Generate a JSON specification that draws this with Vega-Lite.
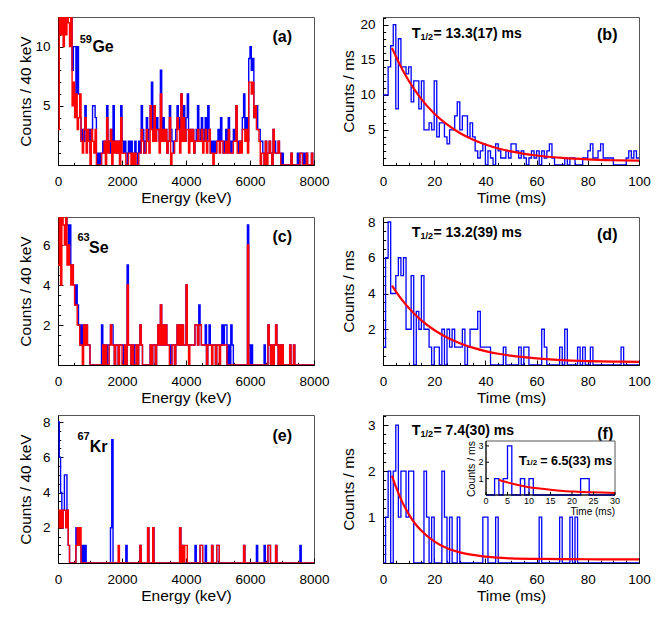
{
  "$schema": "https://vega.github.io/schema/vega-lite/v6.json",
  "padding": {"left": 18, "top": 16, "right": 5, "bottom": 5},
  "background": "white",
  "spacing": 7,
  "config": {
    "font": "Liberation Sans",
    "view": {"stroke": "#555", "strokeWidth": 1},
    "style": {"guide-title": {"fontWeight": "normal"}},
    "axis": {"grid": false, "domainColor": "#000", "tickColor": "#000", "labelColor": "#000", "titleColor": "#000",
      "labelFont": "Liberation Sans", "titleFont": "Liberation Sans",
      "labelFontSize": 13.5, "titleFontSize": 15.5, "titleFontWeight": "normal", "tickSize": -5, "zindex": 1,
      "labelFlush": false, "labelOverlap": false},
    "axisY": {"labelPadding": 13, "minExtent": 21, "maxExtent": 21, "titlePadding": 3.4, "titleFontWeight": "normal"},
    "axisX": {"labelPadding": 14, "titlePadding": 3, "titleFontWeight": "normal"}
  },
  "vconcat": [
    {"spacing": 69, "bounds": "flush", "hconcat": [
      {"width": 256, "height": 148,
       "resolve": {"axis": {"x": "independent", "y": "independent"}},
       "layer": [
        {"data": {"name": "geA", "values": [
{"e":0,"b":14,"r":3},{"e":40,"b":14,"r":14},{"e":80,"b":14,"r":11},{"e":120,"b":14,"r":14},{"e":160,"b":14,"r":10},{"e":200,"b":14,"r":14},{"e":240,"b":14,"r":11},{"e":280,"b":14,"r":14},{"e":320,"b":14,"r":12},{"e":360,"b":14,"r":10},
{"e":400,"b":13,"r":14},{"e":440,"b":8,"r":5},{"e":480,"b":10,"r":7},{"e":520,"b":10,"r":4},{"e":560,"b":6,"r":6},{"e":600,"b":10,"r":3},{"e":640,"b":6,"r":4},{"e":680,"b":4,"r":6},{"e":720,"b":2,"r":2},{"e":760,"b":3,"r":1},
{"e":800,"b":2,"r":3},{"e":840,"b":5,"r":4},{"e":880,"b":3,"r":1},{"e":920,"b":2,"r":3},{"e":960,"b":3,"r":2},{"e":1000,"b":1,"r":0},{"e":1040,"b":3,"r":3},{"e":1080,"b":5,"r":2},{"e":1120,"b":5,"r":1},{"e":1160,"b":4,"r":3},
{"e":1200,"b":1,"r":0},{"e":1240,"b":0,"r":0},{"e":1280,"b":1,"r":0},{"e":1320,"b":0,"r":0},{"e":1360,"b":1,"r":1},{"e":1400,"b":2,"r":1},{"e":1440,"b":1,"r":2},{"e":1480,"b":2,"r":0},{"e":1520,"b":5,"r":4},{"e":1560,"b":2,"r":1},
{"e":1600,"b":1,"r":2},{"e":1640,"b":3,"r":3},{"e":1680,"b":1,"r":0},{"e":1720,"b":5,"r":2},{"e":1760,"b":2,"r":1},{"e":1800,"b":2,"r":2},{"e":1840,"b":1,"r":1},{"e":1880,"b":2,"r":2},{"e":1920,"b":1,"r":0},{"e":1960,"b":5,"r":4},
{"e":2000,"b":2,"r":1},{"e":2040,"b":1,"r":1},{"e":2080,"b":2,"r":1},{"e":2120,"b":1,"r":0},{"e":2160,"b":0,"r":0},{"e":2200,"b":2,"r":1},{"e":2240,"b":1,"r":1},{"e":2280,"b":2,"r":0},{"e":2320,"b":1,"r":1},{"e":2360,"b":0,"r":0},
{"e":2400,"b":2,"r":1},{"e":2440,"b":1,"r":0},{"e":2480,"b":0,"r":0},{"e":2520,"b":2,"r":1},{"e":2560,"b":1,"r":1},{"e":2600,"b":5,"r":3},{"e":2640,"b":3,"r":2},{"e":2680,"b":1,"r":1},{"e":2720,"b":2,"r":1},{"e":2760,"b":4,"r":3},
{"e":2800,"b":2,"r":2},{"e":2840,"b":3,"r":1},{"e":2880,"b":5,"r":5},{"e":2920,"b":7,"r":3},{"e":2960,"b":3,"r":2},{"e":3000,"b":5,"r":5},{"e":3040,"b":2,"r":2},{"e":3080,"b":4,"r":3},{"e":3120,"b":3,"r":3},{"e":3160,"b":2,"r":1},
{"e":3200,"b":8,"r":6},{"e":3240,"b":3,"r":2},{"e":3280,"b":4,"r":3},{"e":3320,"b":2,"r":2},{"e":3360,"b":3,"r":3},{"e":3400,"b":1,"r":1},{"e":3440,"b":2,"r":2},{"e":3480,"b":5,"r":4},{"e":3520,"b":3,"r":0},{"e":3560,"b":2,"r":1},
{"e":3600,"b":1,"r":1},{"e":3640,"b":2,"r":2},{"e":3680,"b":3,"r":2},{"e":3720,"b":5,"r":4},{"e":3760,"b":4,"r":3},{"e":3800,"b":2,"r":1},{"e":3840,"b":6,"r":6},{"e":3880,"b":3,"r":2},{"e":3920,"b":5,"r":4},{"e":3960,"b":2,"r":2},
{"e":4000,"b":4,"r":3},{"e":4040,"b":6,"r":3},{"e":4080,"b":2,"r":1},{"e":4120,"b":3,"r":3},{"e":4160,"b":2,"r":2},{"e":4200,"b":3,"r":3},{"e":4240,"b":1,"r":1},{"e":4280,"b":2,"r":2},{"e":4320,"b":3,"r":2},{"e":4360,"b":5,"r":3},
{"e":4400,"b":3,"r":2},{"e":4440,"b":2,"r":2},{"e":4480,"b":4,"r":3},{"e":4520,"b":3,"r":1},{"e":4560,"b":2,"r":2},{"e":4600,"b":4,"r":3},{"e":4640,"b":2,"r":1},{"e":4680,"b":5,"r":2},{"e":4720,"b":3,"r":3},{"e":4760,"b":1,"r":1},
{"e":4800,"b":2,"r":1},{"e":4840,"b":1,"r":0},{"e":4880,"b":2,"r":1},{"e":4920,"b":1,"r":1},{"e":4960,"b":2,"r":2},{"e":5000,"b":3,"r":2},{"e":5040,"b":2,"r":1},{"e":5080,"b":4,"r":2},{"e":5120,"b":2,"r":2},{"e":5160,"b":1,"r":1},
{"e":5200,"b":2,"r":1},{"e":5240,"b":3,"r":2},{"e":5280,"b":1,"r":1},{"e":5320,"b":4,"r":3},{"e":5360,"b":2,"r":1},{"e":5400,"b":1,"r":1},{"e":5440,"b":2,"r":1},{"e":5480,"b":3,"r":2},{"e":5520,"b":2,"r":2},{"e":5560,"b":5,"r":5},
{"e":5600,"b":2,"r":1},{"e":5640,"b":1,"r":1},{"e":5680,"b":2,"r":2},{"e":5720,"b":2,"r":1},{"e":5760,"b":4,"r":3},{"e":5800,"b":6,"r":3},{"e":5840,"b":3,"r":2},{"e":5880,"b":4,"r":3},{"e":5920,"b":2,"r":1},{"e":5960,"b":9,"r":7},
{"e":6000,"b":10,"r":7},{"e":6040,"b":8,"r":6},{"e":6080,"b":9,"r":7},{"e":6120,"b":4,"r":4},{"e":6160,"b":5,"r":5},{"e":6200,"b":5,"r":3},{"e":6240,"b":3,"r":3},{"e":6280,"b":3,"r":2},{"e":6320,"b":2,"r":0},{"e":6360,"b":2,"r":1},
{"e":6400,"b":1,"r":1},{"e":6440,"b":0,"r":0},{"e":6480,"b":2,"r":2},{"e":6520,"b":1,"r":0},{"e":6560,"b":1,"r":1},{"e":6600,"b":2,"r":2},{"e":6640,"b":1,"r":1},{"e":6680,"b":0,"r":0},{"e":6720,"b":3,"r":3},{"e":6760,"b":2,"r":1},
{"e":6800,"b":1,"r":1},{"e":6840,"b":1,"r":1},{"e":6880,"b":2,"r":2},{"e":6920,"b":1,"r":1},{"e":6960,"b":0,"r":0},{"e":7000,"b":1,"r":0},{"e":7040,"b":0,"r":0},{"e":7080,"b":0,"r":0},{"e":7120,"b":0,"r":0},{"e":7160,"b":0,"r":0},
{"e":7200,"b":0,"r":0},{"e":7240,"b":0,"r":0},{"e":7280,"b":1,"r":1},{"e":7320,"b":0,"r":0},{"e":7360,"b":0,"r":0},{"e":7400,"b":0,"r":0},{"e":7440,"b":0,"r":0},{"e":7480,"b":1,"r":0},{"e":7520,"b":0,"r":0},{"e":7560,"b":1,"r":1},
{"e":7600,"b":1,"r":1},{"e":7640,"b":0,"r":0},{"e":7680,"b":1,"r":0},{"e":7720,"b":0,"r":0},{"e":7760,"b":1,"r":1},{"e":7800,"b":0,"r":0},{"e":7840,"b":0,"r":0},{"e":7880,"b":0,"r":0},{"e":7920,"b":1,"r":1},{"e":7960,"b":0,"r":0},
{"e":8000,"b":0,"r":0}]},
         "mark": {"type": "line", "interpolate": "step-after", "clip": true, "color": "#0000ff", "strokeWidth": 1.4},
         "encoding": {
          "x": {"field": "e", "type": "quantitative", "scale": {"domain": [0, 8000], "nice": false}, "axis": {"orient": "bottom", "title": "Energy (keV)", "titleFontWeight": "normal", "format": "d", "values": [0, 2000, 4000, 6000, 8000]}},
          "y": {"field": "b", "type": "quantitative", "scale": {"domain": [0, 12.5], "nice": false}, "axis": {"orient": "left", "title": "Counts / 40 keV", "titleFontWeight": "normal", "values": [5, 10]}}}},
        {"data": {"name": "geA"},
         "mark": {"type": "line", "interpolate": "step-after", "clip": true, "color": "#ff0000", "strokeWidth": 1.4},
         "encoding": {
          "x": {"field": "e", "type": "quantitative", "scale": {"domain": [0, 8000], "nice": false}, "axis": {"orient": "bottom", "title": null, "labels": false, "domain": false, "tickSize": -2.7, "values": [500,1000,1500,2500,3000,3500,4500,5000,5500,6500,7000,7500]}},
          "y": {"field": "r", "type": "quantitative", "scale": {"domain": [0, 12.5], "nice": false}, "axis": {"orient": "left", "title": null, "labels": false, "domain": false, "tickSize": -2.7, "values": [1,2,3,4,6,7,8,9,11,12]}}}},
        {"data": {"values": [{}]},
         "mark": {"type": "text", "text": "59", "fontSize": 11, "fontWeight": "bold", "align": "left"},
         "encoding": {"x": {"datum": 678, "type": "quantitative", "axis": null}, "y": {"datum": 10.56, "type": "quantitative", "axis": null}}},
        {"data": {"values": [{}]},
         "mark": {"type": "text", "text": "Ge", "fontSize": 16, "fontWeight": "bold", "align": "left"},
         "encoding": {"x": {"datum": 1075, "type": "quantitative", "axis": null}, "y": {"datum": 9.97, "type": "quantitative", "axis": null}}},
        {"data": {"values": [{}]},
         "mark": {"type": "text", "text": "(a)", "fontSize": 16, "fontWeight": "bold", "align": "center"},
         "encoding": {"x": {"datum": 7006, "type": "quantitative", "axis": null}, "y": {"datum": 10.84, "type": "quantitative", "axis": null}}}
       ]},
      {"width": 256, "height": 148,
       "resolve": {"axis": {"x": "independent", "y": "independent"}},
       "layer": [
        {"data": {"values": [
{"t":0,"c":10},{"t":1,"c":10},{"t":2,"c":14},{"t":3,"c":17},{"t":4,"c":20},{"t":5,"c":8},{"t":6,"c":18},{"t":7,"c":14},{"t":8,"c":14},{"t":9,"c":13},
{"t":10,"c":14},{"t":11,"c":9},{"t":12,"c":12},{"t":13,"c":12},{"t":14,"c":8},{"t":15,"c":12},{"t":16,"c":5},{"t":17,"c":5},{"t":18,"c":6},{"t":19,"c":5},
{"t":20,"c":12},{"t":21,"c":4},{"t":22,"c":6},{"t":23,"c":6},{"t":24,"c":4},{"t":25,"c":3},{"t":26,"c":5},{"t":27,"c":5},{"t":28,"c":7},{"t":29,"c":9},
{"t":30,"c":5},{"t":31,"c":7},{"t":32,"c":7},{"t":33,"c":4},{"t":34,"c":6},{"t":35,"c":4},{"t":36,"c":2},{"t":37,"c":1},{"t":38,"c":2},{"t":39,"c":3},
{"t":40,"c":0},{"t":41,"c":2},{"t":42,"c":1},{"t":43,"c":0},{"t":44,"c":3},{"t":45,"c":2},{"t":46,"c":1},{"t":47,"c":1},{"t":48,"c":2},{"t":49,"c":1},
{"t":50,"c":3},{"t":51,"c":3},{"t":52,"c":2},{"t":53,"c":1},{"t":54,"c":2},{"t":55,"c":1},{"t":56,"c":0},{"t":57,"c":1},{"t":58,"c":2},{"t":59,"c":1},
{"t":60,"c":2},{"t":61,"c":0},{"t":62,"c":2},{"t":63,"c":1},{"t":64,"c":2},{"t":65,"c":3},{"t":66,"c":1},{"t":67,"c":0},{"t":68,"c":0},{"t":69,"c":0},
{"t":70,"c":0},{"t":71,"c":1},{"t":72,"c":0},{"t":73,"c":1},{"t":74,"c":1},{"t":75,"c":0},{"t":76,"c":0},{"t":77,"c":0},{"t":78,"c":1},{"t":79,"c":1},
{"t":80,"c":2},{"t":81,"c":3},{"t":82,"c":1},{"t":83,"c":1},{"t":84,"c":2},{"t":85,"c":3},{"t":86,"c":1},{"t":87,"c":1},{"t":88,"c":1},{"t":89,"c":1},
{"t":90,"c":0},{"t":91,"c":0},{"t":92,"c":0},{"t":93,"c":0},{"t":94,"c":0},{"t":95,"c":1},{"t":96,"c":2},{"t":97,"c":1},{"t":98,"c":2},{"t":99,"c":1},
{"t":100,"c":1}]},
         "mark": {"type": "line", "interpolate": "step-after", "clip": true, "color": "#0000ff", "strokeWidth": 1.3},
         "encoding": {
          "x": {"field": "t", "type": "quantitative", "scale": {"domain": [0, 100], "nice": false}, "axis": {"orient": "bottom", "title": "Time (ms)", "titleFontWeight": "normal", "values": [0, 20, 40, 60, 80, 100]}},
          "y": {"field": "c", "type": "quantitative", "scale": {"domain": [0, 21.1], "nice": false}, "axis": {"orient": "left", "title": "Counts / ms", "titleFontWeight": "normal", "values": [5, 10, 15, 20], "titlePadding": 6}}}},
        {"data": {"values": [
{"t":3.5,"f":16.7},{"t":5,"f":15.5},{"t":7.5,"f":13.65},{"t":10,"f":12.05},{"t":12.5,"f":10.64},{"t":15,"f":9.4},{"t":20,"f":7.35},{"t":25,"f":5.79},{"t":30,"f":4.57},
{"t":35,"f":3.64},{"t":40,"f":2.92},{"t":45,"f":2.36},{"t":50,"f":1.94},{"t":60,"f":1.35},{"t":70,"f":1.01},{"t":80,"f":0.8},{"t":90,"f":0.68},{"t":100,"f":0.61}]},
         "mark": {"type": "line", "interpolate": "monotone", "color": "#ff0000", "strokeWidth": 2.2},
         "encoding": {
          "x": {"field": "t", "type": "quantitative", "scale": {"domain": [0, 100], "nice": false}, "axis": {"orient": "bottom", "title": null, "labels": false, "domain": false, "tickSize": -2.7, "values": [5,10,15,25,30,35,45,50,55,65,70,75,85,90,95]}},
          "y": {"field": "f", "type": "quantitative", "scale": {"domain": [0, 21.1], "nice": false}, "axis": {"orient": "left", "title": null, "labels": false, "domain": false, "tickSize": -2.7, "values": [1,2,3,4,6,7,8,9,11,12,13,14,16,17,18,19,21]}}}},
        {"data": {"values": [{}]},
         "mark": {"type": "text", "text": "T", "fontSize": 14.5, "fontWeight": "bold", "align": "left"},
         "encoding": {"x": {"datum": 11.2, "type": "quantitative", "axis": null}, "y": {"datum": 18.63, "type": "quantitative", "axis": null}}},
        {"data": {"values": [{}]},
         "mark": {"type": "text", "text": "1/2", "fontSize": 9, "fontWeight": "bold", "align": "left"},
         "encoding": {"x": {"datum": 14.6, "type": "quantitative", "axis": null}, "y": {"datum": 18.25, "type": "quantitative", "axis": null}}},
        {"data": {"values": [{}]},
         "mark": {"type": "text", "text": "= 13.3(17) ms", "fontSize": 14, "fontWeight": "bold", "align": "left"},
         "encoding": {"x": {"datum": 19.7, "type": "quantitative", "axis": null}, "y": {"datum": 18.63, "type": "quantitative", "axis": null}}},
        {"data": {"values": [{}]},
         "mark": {"type": "text", "text": "(b)", "fontSize": 16, "fontWeight": "bold", "align": "center"},
         "encoding": {"x": {"datum": 87.6, "type": "quantitative", "axis": null}, "y": {"datum": 18.6, "type": "quantitative", "axis": null}}}
       ]}
    ]},
    {"spacing": 69, "bounds": "flush", "hconcat": [
      {"width": 256, "height": 148,
       "resolve": {"axis": {"x": "independent", "y": "independent"}},
       "layer": [
        {"data": {"name": "seC", "values": [
{"e":0,"b":9,"r":5},{"e":40,"b":9,"r":8},{"e":80,"b":9,"r":4},{"e":120,"b":9,"r":8},{"e":160,"b":9,"r":7},{"e":200,"b":9,"r":6},{"e":240,"b":9,"r":8},{"e":280,"b":7,"r":5},{"e":320,"b":6,"r":6},{"e":360,"b":7,"r":5},
{"e":400,"b":5,"r":4},{"e":440,"b":5,"r":5},{"e":480,"b":4,"r":4},{"e":520,"b":3,"r":3},{"e":560,"b":4,"r":3},{"e":600,"b":3,"r":2},{"e":640,"b":2,"r":2},{"e":680,"b":1,"r":1},{"e":720,"b":2,"r":1},{"e":760,"b":1,"r":0},
{"e":800,"b":2,"r":2},{"e":840,"b":1,"r":1},{"e":880,"b":2,"r":2},{"e":920,"b":1,"r":1},{"e":960,"b":1,"r":1},{"e":1000,"b":0,"r":0},{"e":1040,"b":0,"r":0},{"e":1080,"b":0,"r":0},{"e":1120,"b":0,"r":0},{"e":1160,"b":0,"r":0},
{"e":1200,"b":0,"r":0},{"e":1240,"b":0,"r":0},{"e":1280,"b":0,"r":0},{"e":1320,"b":0,"r":0},{"e":1360,"b":2,"r":0},{"e":1400,"b":1,"r":1},{"e":1440,"b":0,"r":0},{"e":1480,"b":1,"r":1},{"e":1520,"b":0,"r":0},{"e":1560,"b":1,"r":0},
{"e":1600,"b":1,"r":1},{"e":1640,"b":2,"r":2},{"e":1680,"b":2,"r":1},{"e":1720,"b":1,"r":1},{"e":1760,"b":0,"r":0},{"e":1800,"b":1,"r":1},{"e":1840,"b":1,"r":1},{"e":1880,"b":0,"r":0},{"e":1920,"b":1,"r":1},{"e":1960,"b":1,"r":1},
{"e":2000,"b":1,"r":0},{"e":2040,"b":0,"r":0},{"e":2080,"b":1,"r":1},{"e":2120,"b":0,"r":0},{"e":2160,"b":5,"r":4},{"e":2200,"b":1,"r":1},{"e":2240,"b":1,"r":1},{"e":2280,"b":0,"r":0},{"e":2320,"b":1,"r":1},{"e":2360,"b":0,"r":0},
{"e":2400,"b":1,"r":0},{"e":2440,"b":1,"r":1},{"e":2480,"b":0,"r":0},{"e":2520,"b":1,"r":1},{"e":2560,"b":2,"r":2},{"e":2600,"b":1,"r":1},{"e":2640,"b":0,"r":0},{"e":2680,"b":0,"r":0},{"e":2720,"b":0,"r":0},{"e":2760,"b":0,"r":0},
{"e":2800,"b":0,"r":0},{"e":2840,"b":0,"r":0},{"e":2880,"b":1,"r":1},{"e":2920,"b":0,"r":0},{"e":2960,"b":1,"r":1},{"e":3000,"b":1,"r":1},{"e":3040,"b":0,"r":0},{"e":3080,"b":1,"r":1},{"e":3120,"b":2,"r":2},{"e":3160,"b":1,"r":1},
{"e":3200,"b":3,"r":3},{"e":3240,"b":1,"r":1},{"e":3280,"b":2,"r":2},{"e":3320,"b":1,"r":1},{"e":3360,"b":2,"r":2},{"e":3400,"b":1,"r":1},{"e":3440,"b":1,"r":1},{"e":3480,"b":1,"r":0},{"e":3520,"b":0,"r":0},{"e":3560,"b":1,"r":1},
{"e":3600,"b":1,"r":1},{"e":3640,"b":0,"r":0},{"e":3680,"b":1,"r":1},{"e":3720,"b":2,"r":2},{"e":3760,"b":1,"r":1},{"e":3800,"b":2,"r":2},{"e":3840,"b":1,"r":1},{"e":3880,"b":2,"r":2},{"e":3920,"b":1,"r":1},{"e":3960,"b":1,"r":1},
{"e":4000,"b":4,"r":4},{"e":4040,"b":1,"r":1},{"e":4080,"b":1,"r":0},{"e":4120,"b":1,"r":1},{"e":4160,"b":1,"r":1},{"e":4200,"b":1,"r":1},{"e":4240,"b":1,"r":1},{"e":4280,"b":2,"r":2},{"e":4320,"b":2,"r":2},{"e":4360,"b":1,"r":1},
{"e":4400,"b":3,"r":2},{"e":4440,"b":2,"r":2},{"e":4480,"b":1,"r":1},{"e":4520,"b":1,"r":1},{"e":4560,"b":1,"r":1},{"e":4600,"b":2,"r":1},{"e":4640,"b":0,"r":0},{"e":4680,"b":1,"r":1},{"e":4720,"b":2,"r":1},{"e":4760,"b":1,"r":1},
{"e":4800,"b":1,"r":0},{"e":4840,"b":1,"r":1},{"e":4880,"b":1,"r":1},{"e":4920,"b":0,"r":0},{"e":4960,"b":1,"r":1},{"e":5000,"b":1,"r":1},{"e":5040,"b":1,"r":0},{"e":5080,"b":1,"r":1},{"e":5120,"b":2,"r":1},{"e":5160,"b":1,"r":1},
{"e":5200,"b":2,"r":1},{"e":5240,"b":2,"r":1},{"e":5280,"b":0,"r":0},{"e":5320,"b":1,"r":0},{"e":5360,"b":0,"r":0},{"e":5400,"b":2,"r":0},{"e":5440,"b":1,"r":0},{"e":5480,"b":0,"r":0},{"e":5520,"b":0,"r":0},{"e":5560,"b":0,"r":0},
{"e":5600,"b":0,"r":0},{"e":5640,"b":0,"r":0},{"e":5680,"b":0,"r":0},{"e":5720,"b":0,"r":0},{"e":5760,"b":0,"r":0},{"e":5800,"b":0,"r":0},{"e":5840,"b":0,"r":0},{"e":5880,"b":0,"r":0},{"e":5920,"b":7,"r":6},{"e":5960,"b":1,"r":0},
{"e":6000,"b":0,"r":0},{"e":6040,"b":1,"r":0},{"e":6080,"b":0,"r":0},{"e":6120,"b":0,"r":0},{"e":6160,"b":0,"r":0},{"e":6200,"b":0,"r":0},{"e":6240,"b":0,"r":0},{"e":6280,"b":0,"r":0},{"e":6320,"b":0,"r":0},{"e":6360,"b":0,"r":0},
{"e":6400,"b":0,"r":0},{"e":6440,"b":1,"r":0},{"e":6480,"b":0,"r":0},{"e":6520,"b":0,"r":0},{"e":6560,"b":2,"r":2},{"e":6600,"b":1,"r":1},{"e":6640,"b":0,"r":0},{"e":6680,"b":1,"r":1},{"e":6720,"b":0,"r":0},{"e":6760,"b":1,"r":1},
{"e":6800,"b":2,"r":2},{"e":6840,"b":1,"r":1},{"e":6880,"b":0,"r":0},{"e":6920,"b":1,"r":1},{"e":6960,"b":0,"r":0},{"e":7000,"b":1,"r":1},{"e":7040,"b":0,"r":0},{"e":7080,"b":0,"r":0},{"e":7120,"b":0,"r":0},{"e":7160,"b":0,"r":0},
{"e":7200,"b":0,"r":0},{"e":7240,"b":1,"r":1},{"e":7280,"b":0,"r":0},{"e":7320,"b":0,"r":0},{"e":7360,"b":1,"r":1},{"e":7400,"b":0,"r":0},{"e":7440,"b":0,"r":0},{"e":7480,"b":0,"r":0},{"e":7520,"b":0,"r":0},{"e":7560,"b":0,"r":0},
{"e":7600,"b":0,"r":0},{"e":7640,"b":0,"r":0},{"e":7680,"b":0,"r":0},{"e":7720,"b":0,"r":0},{"e":7760,"b":0,"r":0},{"e":7800,"b":0,"r":0},{"e":7840,"b":0,"r":0},{"e":7880,"b":0,"r":0},{"e":7920,"b":0,"r":0},{"e":7960,"b":0,"r":0},
{"e":8000,"b":0,"r":0}]},
         "mark": {"type": "line", "interpolate": "step-after", "clip": true, "color": "#0000ff", "strokeWidth": 1.4},
         "encoding": {
          "x": {"field": "e", "type": "quantitative", "scale": {"domain": [0, 8000], "nice": false}, "axis": {"orient": "bottom", "title": "Energy (keV)", "titleFontWeight": "normal", "format": "d", "values": [0, 2000, 4000, 6000, 8000]}},
          "y": {"field": "b", "type": "quantitative", "scale": {"domain": [0, 7.4], "nice": false}, "axis": {"orient": "left", "title": "Counts / 40 keV", "titleFontWeight": "normal", "values": [2, 4, 6]}}}},
        {"data": {"name": "seC"},
         "mark": {"type": "line", "interpolate": "step-after", "clip": true, "color": "#ff0000", "strokeWidth": 1.4},
         "encoding": {
          "x": {"field": "e", "type": "quantitative", "scale": {"domain": [0, 8000], "nice": false}, "axis": {"orient": "bottom", "title": null, "labels": false, "domain": false, "tickSize": -2.7, "values": [500,1000,1500,2500,3000,3500,4500,5000,5500,6500,7000,7500]}},
          "y": {"field": "r", "type": "quantitative", "scale": {"domain": [0, 7.4], "nice": false}, "axis": {"orient": "left", "title": null, "labels": false, "domain": false, "tickSize": -2.7, "values": [0.5,1,1.5,2.5,3,3.5,4.5,5,5.5,6.5,7]}}}},
        {"data": {"values": [{}]},
         "mark": {"type": "text", "text": "63", "fontSize": 11, "fontWeight": "bold", "align": "left"},
         "encoding": {"x": {"datum": 606, "type": "quantitative", "axis": null}, "y": {"datum": 6.33, "type": "quantitative", "axis": null}}},
        {"data": {"values": [{}]},
         "mark": {"type": "text", "text": "Se", "fontSize": 16, "fontWeight": "bold", "align": "left"},
         "encoding": {"x": {"datum": 969, "type": "quantitative", "axis": null}, "y": {"datum": 5.83, "type": "quantitative", "axis": null}}},
        {"data": {"values": [{}]},
         "mark": {"type": "text", "text": "(c)", "fontSize": 16, "fontWeight": "bold", "align": "center"},
         "encoding": {"x": {"datum": 7006, "type": "quantitative", "axis": null}, "y": {"datum": 6.41, "type": "quantitative", "axis": null}}}
       ]},
      {"width": 256, "height": 148,
       "resolve": {"axis": {"x": "independent", "y": "independent"}},
       "layer": [
        {"data": {"values": [
{"t":0,"c":1},{"t":1,"c":6},{"t":2,"c":8},{"t":3,"c":4},{"t":4,"c":4},{"t":5,"c":5},{"t":6,"c":6},{"t":7,"c":5},{"t":8,"c":6},{"t":9,"c":2},
{"t":10,"c":2},{"t":11,"c":5},{"t":12,"c":0},{"t":13,"c":3},{"t":14,"c":2},{"t":15,"c":5},{"t":16,"c":2},{"t":17,"c":2},{"t":18,"c":1},{"t":19,"c":0},
{"t":20,"c":1},{"t":21,"c":1},{"t":22,"c":0},{"t":23,"c":2},{"t":24,"c":0},{"t":25,"c":2},{"t":26,"c":1},{"t":27,"c":2},{"t":28,"c":1},{"t":29,"c":1},
{"t":30,"c":1},{"t":31,"c":2},{"t":32,"c":0},{"t":33,"c":1},{"t":34,"c":2},{"t":35,"c":2},{"t":36,"c":2},{"t":37,"c":3},{"t":38,"c":1},{"t":39,"c":1},
{"t":40,"c":1},{"t":41,"c":1},{"t":42,"c":0},{"t":43,"c":0},{"t":44,"c":0},{"t":45,"c":0},{"t":46,"c":0},{"t":47,"c":1},{"t":48,"c":0},{"t":49,"c":0},
{"t":50,"c":0},{"t":51,"c":0},{"t":52,"c":0},{"t":53,"c":1},{"t":54,"c":0},{"t":55,"c":1},{"t":56,"c":1},{"t":57,"c":0},{"t":58,"c":0},{"t":59,"c":0},
{"t":60,"c":0},{"t":61,"c":0},{"t":62,"c":2},{"t":63,"c":1},{"t":64,"c":0},{"t":65,"c":0},{"t":66,"c":0},{"t":67,"c":0},{"t":68,"c":0},{"t":69,"c":1},
{"t":70,"c":0},{"t":71,"c":2},{"t":72,"c":0},{"t":73,"c":0},{"t":74,"c":0},{"t":75,"c":0},{"t":76,"c":1},{"t":77,"c":0},{"t":78,"c":1},{"t":79,"c":0},
{"t":80,"c":0},{"t":81,"c":1},{"t":82,"c":0},{"t":83,"c":0},{"t":84,"c":0},{"t":85,"c":0},{"t":86,"c":0},{"t":87,"c":0},{"t":88,"c":0},{"t":89,"c":0},
{"t":90,"c":0},{"t":91,"c":0},{"t":92,"c":0},{"t":93,"c":1},{"t":94,"c":0},{"t":95,"c":0},{"t":96,"c":0},{"t":97,"c":0},{"t":98,"c":0},{"t":99,"c":0},
{"t":100,"c":0}]},
         "mark": {"type": "line", "interpolate": "step-after", "clip": true, "color": "#0000ff", "strokeWidth": 1.3},
         "encoding": {
          "x": {"field": "t", "type": "quantitative", "scale": {"domain": [0, 100], "nice": false}, "axis": {"orient": "bottom", "title": "Time (ms)", "titleFontWeight": "normal", "values": [0, 20, 40, 60, 80, 100]}},
          "y": {"field": "c", "type": "quantitative", "scale": {"domain": [0, 8.28], "nice": false}, "axis": {"orient": "left", "title": "Counts / ms", "titleFontWeight": "normal", "values": [2, 4, 6, 8], "titlePadding": 6}}}},
        {"data": {"values": [
{"t":3.5,"f":4.44},{"t":5,"f":4.12},{"t":7.5,"f":3.63},{"t":10,"f":3.2},{"t":12.5,"f":2.83},{"t":15,"f":2.5},{"t":20,"f":1.96},{"t":25,"f":1.54},{"t":30,"f":1.22},
{"t":35,"f":0.97},{"t":40,"f":0.78},{"t":45,"f":0.63},{"t":50,"f":0.52},{"t":60,"f":0.37},{"t":70,"f":0.27},{"t":80,"f":0.22},{"t":90,"f":0.19},{"t":100,"f":0.17}]},
         "mark": {"type": "line", "interpolate": "monotone", "color": "#ff0000", "strokeWidth": 2.2},
         "encoding": {
          "x": {"field": "t", "type": "quantitative", "scale": {"domain": [0, 100], "nice": false}, "axis": {"orient": "bottom", "title": null, "labels": false, "domain": false, "tickSize": -2.7, "values": [5,10,15,25,30,35,45,50,55,65,70,75,85,90,95]}},
          "y": {"field": "f", "type": "quantitative", "scale": {"domain": [0, 8.28], "nice": false}, "axis": {"orient": "left", "title": null, "labels": false, "domain": false, "tickSize": -2.7, "values": [0.5,1,1.5,2.5,3,3.5,4.5,5,5.5,6.5,7,7.5]}}}},
        {"data": {"values": [{}]},
         "mark": {"type": "text", "text": "T", "fontSize": 14.5, "fontWeight": "bold", "align": "left"},
         "encoding": {"x": {"datum": 11.2, "type": "quantitative", "axis": null}, "y": {"datum": 7.37, "type": "quantitative", "axis": null}}},
        {"data": {"values": [{}]},
         "mark": {"type": "text", "text": "1/2", "fontSize": 9, "fontWeight": "bold", "align": "left"},
         "encoding": {"x": {"datum": 14.6, "type": "quantitative", "axis": null}, "y": {"datum": 7.22, "type": "quantitative", "axis": null}}},
        {"data": {"values": [{}]},
         "mark": {"type": "text", "text": "= 13.2(39) ms", "fontSize": 14, "fontWeight": "bold", "align": "left"},
         "encoding": {"x": {"datum": 19.7, "type": "quantitative", "axis": null}, "y": {"datum": 7.37, "type": "quantitative", "axis": null}}},
        {"data": {"values": [{}]},
         "mark": {"type": "text", "text": "(d)", "fontSize": 16, "fontWeight": "bold", "align": "center"},
         "encoding": {"x": {"datum": 87.6, "type": "quantitative", "axis": null}, "y": {"datum": 7.26, "type": "quantitative", "axis": null}}}
       ]}
    ]},
    {"spacing": 69, "bounds": "flush", "hconcat": [
      {"width": 256, "height": 148,
       "resolve": {"axis": {"x": "independent", "y": "independent"}},
       "layer": [
        {"data": {"name": "krE", "values": [
{"e":0,"b":8,"r":3},{"e":40,"b":6,"r":2},{"e":80,"b":4,"r":3},{"e":120,"b":2,"r":2},{"e":160,"b":3,"r":3},{"e":200,"b":5,"r":3},{"e":240,"b":5,"r":2},{"e":280,"b":3,"r":3},{"e":320,"b":1,"r":1},{"e":360,"b":0,"r":0},
{"e":400,"b":0,"r":0},{"e":440,"b":0,"r":0},{"e":480,"b":0,"r":0},{"e":520,"b":0,"r":0},{"e":560,"b":2,"r":1},{"e":600,"b":1,"r":2},{"e":640,"b":2,"r":1},{"e":680,"b":1,"r":2},{"e":720,"b":0,"r":0},{"e":760,"b":1,"r":0},
{"e":800,"b":0,"r":0},{"e":840,"b":1,"r":0},{"e":880,"b":0,"r":0},{"e":920,"b":0,"r":0},{"e":960,"b":0,"r":0},{"e":1000,"b":0,"r":0},{"e":1040,"b":0,"r":0},{"e":1080,"b":0,"r":0},{"e":1120,"b":0,"r":0},{"e":1160,"b":0,"r":0},
{"e":1200,"b":0,"r":0},{"e":1240,"b":0,"r":0},{"e":1280,"b":0,"r":0},{"e":1320,"b":0,"r":0},{"e":1360,"b":0,"r":0},{"e":1400,"b":0,"r":0},{"e":1440,"b":0,"r":0},{"e":1480,"b":0,"r":0},{"e":1520,"b":0,"r":0},{"e":1560,"b":0,"r":0},
{"e":1600,"b":0,"r":0},{"e":1640,"b":2,"r":0},{"e":1680,"b":7,"r":0},{"e":1720,"b":0,"r":0},{"e":1760,"b":0,"r":0},{"e":1800,"b":0,"r":0},{"e":1840,"b":0,"r":0},{"e":1880,"b":0,"r":1},{"e":1920,"b":0,"r":0},{"e":1960,"b":0,"r":0},
{"e":2000,"b":0,"r":0},{"e":2040,"b":0,"r":0},{"e":2080,"b":0,"r":0},{"e":2120,"b":1,"r":0},{"e":2160,"b":0,"r":0},{"e":2200,"b":0,"r":0},{"e":2240,"b":0,"r":0},{"e":2280,"b":0,"r":0},{"e":2320,"b":0,"r":0},{"e":2360,"b":0,"r":0},
{"e":2400,"b":0,"r":0},{"e":2440,"b":0,"r":0},{"e":2480,"b":0,"r":0},{"e":2520,"b":0,"r":0},{"e":2560,"b":1,"r":1},{"e":2600,"b":0,"r":0},{"e":2640,"b":0,"r":0},{"e":2680,"b":0,"r":0},{"e":2720,"b":0,"r":0},{"e":2760,"b":0,"r":0},
{"e":2800,"b":2,"r":2},{"e":2840,"b":0,"r":0},{"e":2880,"b":0,"r":0},{"e":2920,"b":0,"r":0},{"e":2960,"b":2,"r":2},{"e":3000,"b":0,"r":0},{"e":3040,"b":0,"r":0},{"e":3080,"b":0,"r":0},{"e":3120,"b":0,"r":0},{"e":3160,"b":0,"r":0},
{"e":3200,"b":0,"r":0},{"e":3240,"b":0,"r":0},{"e":3280,"b":0,"r":0},{"e":3320,"b":0,"r":0},{"e":3360,"b":0,"r":0},{"e":3400,"b":0,"r":0},{"e":3440,"b":0,"r":0},{"e":3480,"b":0,"r":0},{"e":3520,"b":0,"r":0},{"e":3560,"b":0,"r":0},
{"e":3600,"b":0,"r":0},{"e":3640,"b":0,"r":0},{"e":3680,"b":0,"r":0},{"e":3720,"b":0,"r":0},{"e":3760,"b":0,"r":0},{"e":3800,"b":2,"r":2},{"e":3840,"b":0,"r":0},{"e":3880,"b":1,"r":1},{"e":3920,"b":0,"r":0},{"e":3960,"b":0,"r":1},
{"e":4000,"b":0,"r":1},{"e":4040,"b":0,"r":0},{"e":4080,"b":0,"r":0},{"e":4120,"b":0,"r":0},{"e":4160,"b":0,"r":0},{"e":4200,"b":0,"r":0},{"e":4240,"b":0,"r":0},{"e":4280,"b":1,"r":0},{"e":4320,"b":0,"r":0},{"e":4360,"b":0,"r":0},
{"e":4400,"b":0,"r":0},{"e":4440,"b":1,"r":1},{"e":4480,"b":1,"r":1},{"e":4520,"b":0,"r":0},{"e":4560,"b":0,"r":0},{"e":4600,"b":1,"r":0},{"e":4640,"b":0,"r":0},{"e":4680,"b":0,"r":0},{"e":4720,"b":0,"r":0},{"e":4760,"b":0,"r":0},
{"e":4800,"b":1,"r":1},{"e":4840,"b":0,"r":0},{"e":4880,"b":0,"r":0},{"e":4920,"b":0,"r":0},{"e":4960,"b":1,"r":1},{"e":5000,"b":1,"r":1},{"e":5040,"b":0,"r":0},{"e":5080,"b":0,"r":0},{"e":5120,"b":0,"r":0},{"e":5160,"b":0,"r":0},
{"e":5200,"b":0,"r":0},{"e":5240,"b":0,"r":0},{"e":5280,"b":0,"r":0},{"e":5320,"b":0,"r":0},{"e":5360,"b":0,"r":0},{"e":5400,"b":0,"r":0},{"e":5440,"b":0,"r":0},{"e":5480,"b":0,"r":0},{"e":5520,"b":0,"r":0},{"e":5560,"b":0,"r":0},
{"e":5600,"b":0,"r":0},{"e":5640,"b":0,"r":0},{"e":5680,"b":0,"r":0},{"e":5720,"b":0,"r":0},{"e":5760,"b":0,"r":0},{"e":5800,"b":1,"r":1},{"e":5840,"b":0,"r":0},{"e":5880,"b":0,"r":0},{"e":5920,"b":0,"r":0},{"e":5960,"b":0,"r":0},
{"e":6000,"b":0,"r":0},{"e":6040,"b":0,"r":0},{"e":6080,"b":0,"r":0},{"e":6120,"b":0,"r":0},{"e":6160,"b":0,"r":0},{"e":6200,"b":1,"r":0},{"e":6240,"b":0,"r":0},{"e":6280,"b":0,"r":0},{"e":6320,"b":0,"r":0},{"e":6360,"b":0,"r":0},
{"e":6400,"b":0,"r":0},{"e":6440,"b":1,"r":0},{"e":6480,"b":0,"r":0},{"e":6520,"b":0,"r":0},{"e":6560,"b":1,"r":1},{"e":6600,"b":1,"r":1},{"e":6640,"b":0,"r":0},{"e":6680,"b":0,"r":0},{"e":6720,"b":0,"r":0},{"e":6760,"b":0,"r":0},
{"e":6800,"b":1,"r":1},{"e":6840,"b":0,"r":0},{"e":6880,"b":0,"r":0},{"e":6920,"b":0,"r":0},{"e":6960,"b":0,"r":0},{"e":7000,"b":0,"r":0},{"e":7040,"b":0,"r":0},{"e":7080,"b":0,"r":0},{"e":7120,"b":0,"r":0},{"e":7160,"b":0,"r":0},
{"e":7200,"b":0,"r":0},{"e":7240,"b":0,"r":0},{"e":7280,"b":0,"r":0},{"e":7320,"b":0,"r":0},{"e":7360,"b":0,"r":0},{"e":7400,"b":0,"r":0},{"e":7440,"b":0,"r":0},{"e":7480,"b":0,"r":0},{"e":7520,"b":0,"r":0},{"e":7560,"b":1,"r":0},
{"e":7600,"b":0,"r":0},{"e":7640,"b":0,"r":0},{"e":7680,"b":0,"r":0},{"e":7720,"b":0,"r":0},{"e":7760,"b":0,"r":0},{"e":7800,"b":0,"r":0},{"e":7840,"b":0,"r":0},{"e":7880,"b":0,"r":0},{"e":7920,"b":0,"r":0},{"e":7960,"b":0,"r":0},
{"e":8000,"b":0,"r":0}]},
         "mark": {"type": "line", "interpolate": "step-after", "clip": true, "color": "#0000ff", "strokeWidth": 1.4},
         "encoding": {
          "x": {"field": "e", "type": "quantitative", "scale": {"domain": [0, 8000], "nice": false}, "axis": {"orient": "bottom", "title": "Energy (keV)", "titleFontWeight": "normal", "format": "d", "values": [0, 2000, 4000, 6000, 8000]}},
          "y": {"field": "b", "type": "quantitative", "scale": {"domain": [0, 8.4], "nice": false}, "axis": {"orient": "left", "title": "Counts / 40 keV", "titleFontWeight": "normal", "values": [2, 4, 6, 8]}}}},
        {"data": {"name": "krE"},
         "mark": {"type": "line", "interpolate": "step-after", "clip": true, "color": "#ff0000", "strokeWidth": 1.4},
         "encoding": {
          "x": {"field": "e", "type": "quantitative", "scale": {"domain": [0, 8000], "nice": false}, "axis": {"orient": "bottom", "title": null, "labels": false, "domain": false, "tickSize": -2.7, "values": [500,1000,1500,2500,3000,3500,4500,5000,5500,6500,7000,7500]}},
          "y": {"field": "r", "type": "quantitative", "scale": {"domain": [0, 8.4], "nice": false}, "axis": {"orient": "left", "title": null, "labels": false, "domain": false, "tickSize": -2.7, "values": [0.5,1,1.5,2.5,3,3.5,4.5,5,5.5,6.5,7,7.5]}}}},
        {"data": {"values": [{}]},
         "mark": {"type": "text", "text": "67", "fontSize": 11, "fontWeight": "bold", "align": "left"},
         "encoding": {"x": {"datum": 606, "type": "quantitative", "axis": null}, "y": {"datum": 7.17, "type": "quantitative", "axis": null}}},
        {"data": {"values": [{}]},
         "mark": {"type": "text", "text": "Kr", "fontSize": 16, "fontWeight": "bold", "align": "left"},
         "encoding": {"x": {"datum": 991, "type": "quantitative", "axis": null}, "y": {"datum": 6.6, "type": "quantitative", "axis": null}}},
        {"data": {"values": [{}]},
         "mark": {"type": "text", "text": "(e)", "fontSize": 16, "fontWeight": "bold", "align": "center"},
         "encoding": {"x": {"datum": 7006, "type": "quantitative", "axis": null}, "y": {"datum": 7.22, "type": "quantitative", "axis": null}}}
       ]},
      {"width": 256, "height": 148,
       "resolve": {"scale": {"x": "independent", "y": "independent"}},
       "layer": [
        {"resolve": {"axis": {"x": "independent", "y": "independent"}},
         "layer": [
          {"data": {"values": [
{"t":0,"c":0},{"t":1,"c":1},{"t":2,"c":2},{"t":3,"c":0},{"t":4,"c":2},{"t":5,"c":3},{"t":6,"c":1},{"t":7,"c":2},{"t":8,"c":2},{"t":9,"c":1},
{"t":10,"c":2},{"t":11,"c":2},{"t":12,"c":0},{"t":13,"c":0},{"t":14,"c":0},{"t":15,"c":0},{"t":16,"c":2},{"t":17,"c":1},{"t":18,"c":0},{"t":19,"c":1},
{"t":20,"c":0},{"t":21,"c":0},{"t":22,"c":0},{"t":23,"c":2},{"t":24,"c":1},{"t":25,"c":0},{"t":26,"c":1},{"t":27,"c":0},{"t":28,"c":0},{"t":29,"c":1},
{"t":30,"c":0},{"t":31,"c":0},{"t":32,"c":0},{"t":33,"c":0},{"t":34,"c":0},{"t":35,"c":0},{"t":36,"c":0},{"t":37,"c":0},{"t":38,"c":0},{"t":39,"c":1},
{"t":40,"c":1},{"t":41,"c":0},{"t":42,"c":0},{"t":43,"c":0},{"t":44,"c":1},{"t":45,"c":0},{"t":46,"c":0},{"t":47,"c":0},{"t":48,"c":0},{"t":49,"c":0},
{"t":50,"c":0},{"t":51,"c":0},{"t":52,"c":0},{"t":53,"c":0},{"t":54,"c":0},{"t":55,"c":0},{"t":56,"c":0},{"t":57,"c":0},{"t":58,"c":0},{"t":59,"c":0},
{"t":60,"c":0},{"t":61,"c":1},{"t":62,"c":0},{"t":63,"c":0},{"t":64,"c":0},{"t":65,"c":0},{"t":66,"c":0},{"t":67,"c":0},{"t":68,"c":0},{"t":69,"c":1},
{"t":70,"c":0},{"t":71,"c":0},{"t":72,"c":0},{"t":73,"c":1},{"t":74,"c":0},{"t":75,"c":1},{"t":76,"c":0},{"t":77,"c":0},{"t":78,"c":0},{"t":79,"c":0},
{"t":80,"c":0},{"t":81,"c":0},{"t":82,"c":0},{"t":83,"c":0},{"t":84,"c":0},{"t":85,"c":0},{"t":86,"c":0},{"t":87,"c":0},{"t":88,"c":0},{"t":89,"c":0},
{"t":90,"c":0},{"t":91,"c":0},{"t":92,"c":0},{"t":93,"c":0},{"t":94,"c":0},{"t":95,"c":0},{"t":96,"c":0},{"t":97,"c":0},{"t":98,"c":0},{"t":99,"c":0},
{"t":100,"c":0}]},
           "mark": {"type": "line", "interpolate": "step-after", "clip": true, "color": "#0000ff", "strokeWidth": 1.3},
           "encoding": {
            "x": {"field": "t", "type": "quantitative", "scale": {"domain": [0, 100], "nice": false}, "axis": {"orient": "bottom", "title": "Time (ms)", "titleFontWeight": "normal", "values": [0, 20, 40, 60, 80, 100]}},
            "y": {"field": "c", "type": "quantitative", "scale": {"domain": [0, 3.22], "nice": false}, "axis": {"orient": "left", "title": "Counts / ms", "titleFontWeight": "normal", "values": [1, 2, 3], "titlePadding": 6}}}},
          {"data": {"values": [
{"t":3.5,"f":1.9},{"t":5,"f":1.66},{"t":7.5,"f":1.33},{"t":10,"f":1.07},{"t":12.5,"f":0.86},{"t":15,"f":0.7},{"t":20,"f":0.47},{"t":25,"f":0.32},{"t":30,"f":0.23},
{"t":35,"f":0.175},{"t":40,"f":0.14},{"t":50,"f":0.1},{"t":60,"f":0.089},{"t":70,"f":0.084},{"t":80,"f":0.082},{"t":90,"f":0.08},{"t":100,"f":0.08}]},
           "mark": {"type": "line", "interpolate": "monotone", "color": "#ff0000", "strokeWidth": 2.2},
           "encoding": {
            "x": {"field": "t", "type": "quantitative", "scale": {"domain": [0, 100], "nice": false}, "axis": {"orient": "bottom", "title": null, "labels": false, "domain": false, "tickSize": -2.7, "values": [5,10,15,25,30,35,45,50,55,65,70,75,85,90,95]}},
            "y": {"field": "f", "type": "quantitative", "scale": {"domain": [0, 3.22], "nice": false}, "axis": {"orient": "left", "title": null, "labels": false, "domain": false, "tickSize": -2.7, "values": [0.2,0.4,0.6,0.8,1.2,1.4,1.6,1.8,2.2,2.4,2.6,2.8,3.2]}}}},
          {"data": {"values": [{}]},
           "mark": {"type": "text", "text": "T", "fontSize": 14.5, "fontWeight": "bold", "align": "left"},
           "encoding": {"x": {"datum": 11.2, "type": "quantitative", "axis": null}, "y": {"datum": 2.87, "type": "quantitative", "axis": null}}},
          {"data": {"values": [{}]},
           "mark": {"type": "text", "text": "1/2", "fontSize": 9, "fontWeight": "bold", "align": "left"},
           "encoding": {"x": {"datum": 14.6, "type": "quantitative", "axis": null}, "y": {"datum": 2.81, "type": "quantitative", "axis": null}}},
          {"data": {"values": [{}]},
           "mark": {"type": "text", "text": "= 7.4(30) ms", "fontSize": 14, "fontWeight": "bold", "align": "left"},
           "encoding": {"x": {"datum": 19.7, "type": "quantitative", "axis": null}, "y": {"datum": 2.87, "type": "quantitative", "axis": null}}},
          {"data": {"values": [{}]},
           "mark": {"type": "text", "text": "(f)", "fontSize": 16, "fontWeight": "bold", "align": "center"},
           "encoding": {"x": {"datum": 86.8, "type": "quantitative", "axis": null}, "y": {"datum": 2.8, "type": "quantitative", "axis": null}}}
         ]},
        {"layer": [
          {"data": {"values": [{}]},
           "mark": {"type": "rect", "fill": "white", "stroke": "#555", "strokeWidth": 1},
           "encoding": {
            "x": {"datum": 0, "type": "quantitative", "scale": {"domain": [0, 30], "range": [103, 232], "nice": false}, "axis": null},
            "x2": {"datum": 30},
            "y": {"datum": 0, "type": "quantitative", "scale": {"domain": [0, 3.3], "range": [80, 26], "nice": false}, "axis": null},
            "y2": {"datum": 3.3}}},
          {"data": {"values": [
{"t":0,"c":0},{"t":1,"c":0},{"t":2,"c":1},{"t":3,"c":0},{"t":4,"c":1},{"t":5,"c":3},{"t":6,"c":0},{"t":7,"c":0},{"t":8,"c":1},{"t":9,"c":0},
{"t":10,"c":1},{"t":11,"c":0},{"t":12,"c":0},{"t":13,"c":0},{"t":14,"c":0},{"t":15,"c":0},{"t":16,"c":0},{"t":17,"c":0},{"t":18,"c":0},{"t":19,"c":0},
{"t":20,"c":0},{"t":21,"c":0},{"t":22,"c":1},{"t":23,"c":1},{"t":24,"c":0},{"t":25,"c":0},{"t":26,"c":0},{"t":27,"c":0},{"t":28,"c":0},{"t":29,"c":0},
{"t":30,"c":0}]},
           "mark": {"type": "line", "interpolate": "step-after", "color": "#0000ff", "strokeWidth": 1.3},
           "encoding": {
            "x": {"field": "t", "type": "quantitative", "axis": null},
            "y": {"field": "c", "type": "quantitative", "axis": null}}},
          {"data": {"values": [
{"t":3,"f":0.93},{"t":4,"f":0.84},{"t":5,"f":0.77},{"t":6,"f":0.7},{"t":8,"f":0.58},{"t":10,"f":0.48},{"t":12,"f":0.41},{"t":15,"f":0.32},{"t":18,"f":0.25},
{"t":21,"f":0.205},{"t":24,"f":0.17},{"t":27,"f":0.146},{"t":30,"f":0.128}]},
           "mark": {"type": "line", "interpolate": "monotone", "color": "#ff0000", "strokeWidth": 2},
           "encoding": {
            "x": {"field": "t", "type": "quantitative", "axis": null},
            "y": {"field": "f", "type": "quantitative", "axis": null}}},
          {"data": {"values": [{}]},
           "mark": {"type": "rule", "color": "#000", "strokeWidth": 1},
           "encoding": {"x": {"datum": 0, "type": "quantitative", "axis": null}, "x2": {"datum": 30}, "y": {"datum": 0, "type": "quantitative", "axis": null}}},
          {"data": {"values": [{}]},
           "mark": {"type": "rule", "color": "#000", "strokeWidth": 1},
           "encoding": {"x": {"datum": 0, "type": "quantitative", "axis": null}, "y": {"datum": 0, "type": "quantitative", "axis": null}, "y2": {"datum": 3.3}}},
          {"data": {"values": [{"t":0,"l":"0"},{"t":5,"l":"5"},{"t":10,"l":"10"},{"t":15,"l":"15"},{"t":20,"l":"20"},{"t":25,"l":"25"},{"t":30,"l":"30"}]},
           "layer": [
            {"mark": {"type": "rule", "color": "#000", "strokeWidth": 1},
             "encoding": {"x": {"field": "t", "type": "quantitative", "axis": null}, "y": {"datum": 0, "type": "quantitative", "axis": null}, "y2": {"datum": 0.19}}},
            {"mark": {"type": "text", "fontSize": 9, "baseline": "top", "align": "center", "dy": 1.5},
             "encoding": {"x": {"field": "t", "type": "quantitative", "axis": null}, "y": {"datum": 0, "type": "quantitative", "axis": null}, "text": {"field": "l"}}}
           ]},
          {"data": {"values": [{"c":1,"l":"1"},{"c":2,"l":"2"},{"c":3,"l":"3"}]},
           "layer": [
            {"mark": {"type": "rule", "color": "#000", "strokeWidth": 1},
             "encoding": {"x": {"datum": 0, "type": "quantitative", "axis": null}, "x2": {"datum": 0.7}, "y": {"field": "c", "type": "quantitative", "axis": null}}},
            {"mark": {"type": "text", "fontSize": 9, "baseline": "middle", "align": "right", "dx": -2.5},
             "encoding": {"x": {"datum": 0, "type": "quantitative", "axis": null}, "y": {"field": "c", "type": "quantitative", "axis": null}, "text": {"field": "l"}}}
           ]},
          {"data": {"values": [{}]},
           "mark": {"type": "text", "text": "Time (ms)", "fontSize": 10, "baseline": "top", "align": "right", "dy": 11.5},
           "encoding": {"x": {"datum": 30, "type": "quantitative", "axis": null}, "y": {"datum": 0, "type": "quantitative", "axis": null}}},
          {"data": {"values": [{}]},
           "mark": {"type": "text", "text": "Counts / ms", "fontSize": 10.5, "angle": 270, "baseline": "bottom", "align": "right"},
           "encoding": {"x": {"datum": -2.1, "type": "quantitative", "axis": null}, "y": {"datum": 3.3, "type": "quantitative", "axis": null}}},
          {"data": {"values": [{}]},
           "mark": {"type": "text", "text": "T", "fontSize": 13.5, "fontWeight": "bold", "align": "left"},
           "encoding": {"x": {"datum": 7.6, "type": "quantitative", "axis": null}, "y": {"datum": 2.08, "type": "quantitative", "axis": null}}},
          {"data": {"values": [{}]},
           "mark": {"type": "text", "text": "1/2", "fontSize": 8, "fontWeight": "bold", "align": "left"},
           "encoding": {"x": {"datum": 9.3, "type": "quantitative", "axis": null}, "y": {"datum": 1.93, "type": "quantitative", "axis": null}}},
          {"data": {"values": [{}]},
           "mark": {"type": "text", "text": "= 6.5(33) ms", "fontSize": 12.5, "fontWeight": "bold", "align": "left"},
           "encoding": {"x": {"datum": 12.6, "type": "quantitative", "axis": null}, "y": {"datum": 2.08, "type": "quantitative", "axis": null}}}
         ]}
       ]}
    ]}
  ]
}
